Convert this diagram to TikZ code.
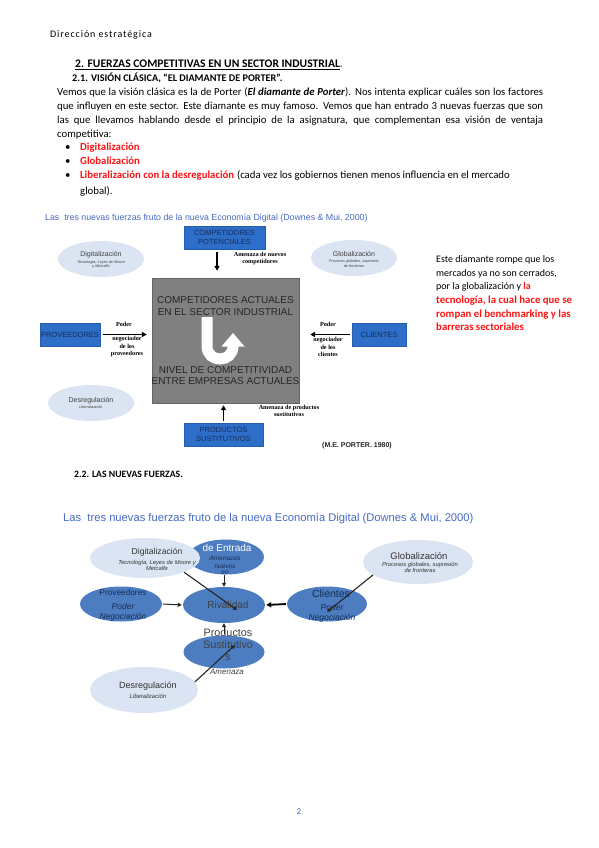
\documentclass[tikz,border=0pt]{standalone}
\usepackage{fontspec}
\setmainfont{Carlito}
\newfontfamily\arialfont{Liberation Sans}
\newfontfamily\timesfont{Liberation Serif}
\usetikzlibrary{arrows.meta,shapes.geometric}
\definecolor{titleblue}{RGB}{70,105,195}
\definecolor{boxblue}{RGB}{45,110,200}
\definecolor{boxtext}{RGB}{25,45,90}
\definecolor{grayfill}{RGB}{128,128,128}
\definecolor{graydraw}{RGB}{100,100,100}
\definecolor{lightell}{RGB}{218,228,242}
\definecolor{darkell}{RGB}{75,125,192}
\definecolor{redtxt}{RGB}{250,20,20}
\definecolor{ellnavy}{RGB}{25,45,85}
\newcommand\ellhead{\arialfont\upshape\fontsize{7}{8}\selectfont}

\begin{document}
\begin{tikzpicture}[x=1pt,y=-1pt]
  \tikzset{
    body/.style={anchor=base west, inner sep=0pt, font=\fontsize{10.75}{14}\selectfont},
    redbody/.style={body, text=redtxt, font=\bfseries\fontsize{10.75}{14}\selectfont},
    head/.style={anchor=base west, inner sep=0pt, font=\bfseries\fontsize{10}{12}\selectfont},
    pbox/.style={draw=boxblue!85!black, fill=boxblue, text=boxtext, align=center, inner sep=1pt,
      font=\arialfont\fontsize{7.5}{8.5}\selectfont},
    light/.style={ellipse, fill=lightell, draw=none, inner sep=0pt},
    dark/.style={ellipse, fill=darkell, draw=none, inner sep=0pt},
    lab/.style={align=center, inner sep=0pt, font=\timesfont\bfseries\fontsize{6.2}{7.5}\selectfont},
    etxt/.style={align=center, inner sep=0pt, text=ellnavy, font=\arialfont\fontsize{6}{7}\selectfont},
    arr/.style={-{Triangle[length=5pt,width=5pt]}, line width=1.6pt},
    arrthin/.style={-{Triangle[length=4pt,width=4pt]}, line width=1pt, black!85}
  }
  \useasboundingbox[fill=white] (0,0) rectangle (599,848);

  % Page text
  \node[body, font=\fontsize{10}{10}\selectfont\addfontfeature{LetterSpace=9}] (runhead) at (50,38) {Dirección estratégica};
  \node[head, font=\bfseries\fontsize{11.6}{12}\selectfont] (sec2) at (75,68)
    {\underline{2. FUERZAS COMPETITIVAS EN UN SECTOR INDUSTRIAL}\textcolor{titleblue}{.}};
  \node[head, font=\bfseries\fontsize{10.2}{11}\selectfont] (sec21) at (72,82)
    {2.1. VISIÓN CLÁSICA, “EL DIAMANTE DE PORTER”.};
  \node[body] (par1) at (57,96) {\makebox[486pt][s]{Vemos que la visión clásica es la de Porter (\textbf{\textit{El diamante de Porter}}). Nos intenta explicar cuáles son los factores}};
  \node[body] (par2) at (57,110) {\makebox[486pt][s]{que influyen en este sector. Este diamante es muy famoso. Vemos que han entrado 3 nuevas fuerzas que son}};
  \node[body] (par3) at (57,124) {\makebox[486pt][s]{las que llevamos hablando desde el principio de la asignatura, que complementan esa visión de ventaja}};
  \node[body] (par4) at (57,137) {competitiva:};
  \foreach \y/\txt [count=\i] in {150/Digitalización, 164/Globalización, 178/Liberalización con la desregulación}{
    \node[body] (bul\i) at (65,\y) {\textbullet};
    \node[redbody] (item\i) at (80,\y) {\txt};
  }
  \node[body, anchor=base west] (item3b) at (item3.base east) {\ (cada vez los gobiernos tienen menos influencia en el mercado};
  \node[body] (item3c) at (80,194) {global).};

  % Diagram 1: Porter
  \node[anchor=base west, inner sep=0pt, text=titleblue, font=\arialfont\fontsize{8.8}{9}\selectfont] (title1) at (45,220)
    {Las\ \ tres nuevas fuerzas fruto de la nueva Economía Digital (Downes \& Mui, 2000)};

  \node[light, minimum width=86, minimum height=36] (digi) at (101,259) {};
  \node[etxt, text=black!75, font=\arialfont\itshape\fontsize{3.8}{4.3}\selectfont] (digi-t) at (101,260)
    {{\ellhead Digitalización}\\[2.5pt]Tecnología, Leyes de Moore\\y Metcalfe};
  \node[light, minimum width=86, minimum height=36] (glob) at (354,258) {};
  \node[etxt, text=black!75, font=\arialfont\itshape\fontsize{3.8}{4.3}\selectfont] (glob-t) at (354,259)
    {{\ellhead Globalización}\\[2.5pt]Procesos globales, supresión\\de fronteras};
  \node[light, minimum width=86, minimum height=36] (desr) at (91,403) {};
  \node[etxt, text=black!75, font=\arialfont\itshape\fontsize{3.8}{4.3}\selectfont] (desr-t) at (91,403)
    {{\ellhead Desregulación}\\[2.5pt]Liberalización};

  \node[pbox, minimum width=81, minimum height=23] (pot) at (224.5,237.5) {COMPETIDORES\\POTENCIALES};
  \node[pbox, minimum width=60, minimum height=23] (prov) at (70,334.5) {PROVEEDORES};
  \node[pbox, minimum width=54, minimum height=23] (cli) at (379,334.5) {CLIENTES};
  \node[pbox, minimum width=79, minimum height=23] (sust) at (223.5,434.5) {PRODUCTOS\\SUSTITUTIVOS};

  \node[draw=graydraw, fill=grayfill, minimum width=147, minimum height=125, inner sep=0pt] (sector) at (225.5,340.5) {};
  \node[align=center, inner sep=0pt, text=black!85, font=\arialfont\fontsize{10}{11.8}\selectfont] (sector-a) at (225.5,306)
    {COMPETIDORES ACTUALES\\EN EL SECTOR INDUSTRIAL};
  \node[align=center, inner sep=0pt, text=black!85, font=\arialfont\fontsize{10}{11.8}\selectfont] (sector-b) at (225.5,375.5)
    {NIVEL DE COMPETITIVIDAD\\ENTRE EMPRESAS ACTUALES};
  % U-turn arrow
  \draw[white, line width=11pt] (207,317) -- (207,346) .. controls (207,363.3) and (233,363.3) .. (233,346);
  \fill[white] (221.5,346.5) -- (244.5,346.5) -- (233,333) -- cycle;

  \draw[arr, shorten <=3pt, shorten >=7pt] ([xshift=-7.5]pot.south) -- ([xshift=-8.5]sector.north);
  \draw[arr, shorten <=3pt, shorten >=5pt] (prov.east) -- (prov.east -| sector.west);
  \draw[arr, shorten <=2pt, shorten >=11pt] (cli.west) -- (cli.west -| sector.east);
  \draw[arr, shorten <=2pt, shorten >=2pt] (sust.north) -- (sust.north |- sector.south);

  \node[lab] (lab-pot) at (260,258.5) {Amenaza de nuevos\\competidores};
  \node[lab] (lab-prov-a) at (124,324) {Poder};
  \node[lab] (lab-prov-b) at (127,347) {negociador\\de los\\proveedores};
  \node[lab] (lab-cli-a) at (328,324) {Poder};
  \node[lab] (lab-cli-b) at (328,347) {negociador\\de los\\clientes};
  \node[lab] (lab-sust) at (289,411) {Amenaza de productos\\sustitutivos};
  \node[inner sep=0pt, text=black!85, font=\arialfont\bfseries\fontsize{7}{7}\selectfont] (porter) at (357,446) {(M.E. PORTER. 1980)};

  % Side note
  \node[body, font=\fontsize{10}{14}\selectfont] (note1) at (436,262) {Este diamante rompe que los};
  \node[body, font=\fontsize{10}{14}\selectfont] (note2) at (436,276) {mercados ya no son cerrados,};
  \node[body, font=\fontsize{10}{14}\selectfont] (note3) at (436,289) {por la globalización y \textcolor{redtxt}{\textbf{la}}};
  \node[redbody, font=\bfseries\fontsize{10.8}{14}\selectfont] (note4) at (436,303) {tecnología, la cual hace que se};
  \node[redbody, font=\bfseries\fontsize{10.8}{14}\selectfont] (note5) at (436,317) {rompan el benchmarking y las};
  \node[redbody, font=\bfseries\fontsize{10.8}{14}\selectfont] (note6) at (436,330) {barreras sectoriales};

  \node[head, font=\bfseries\fontsize{9.7}{11}\selectfont] (sec22) at (74,477) {2.2. LAS NUEVAS FUERZAS.};

  % Diagram 2: new forces
  \node[anchor=base west, inner sep=0pt, text=titleblue, font=\arialfont\fontsize{11.2}{12}\selectfont] (title2) at (63,521)
    {Las\ \ tres nuevas fuerzas fruto de la nueva Economía Digital (Downes \& Mui, 2000)};

  \node[dark, minimum width=76, minimum height=35] (entr) at (226,557) {};
  \node[light, minimum width=110, minimum height=40] (digi2) at (145,558) {};
  \node[dark, minimum width=82, minimum height=35] (prov2) at (121,604) {};
  \node[dark, minimum width=82, minimum height=36] (riv) at (224,605) {};
  \node[dark, minimum width=80, minimum height=35] (cli2) at (327,604) {};
  \node[dark, minimum width=81, minimum height=33] (sust2) at (224,652) {};
  \node[light, minimum width=110, minimum height=44] (glob2) at (418,562) {};
  \node[light, minimum width=108, minimum height=46] (desr2) at (144,690) {};

  \node[etxt, text=white, font=\arialfont\fontsize{10}{10}\selectfont] (entr-a) at (227,548) {de Entrada};
  \node[etxt, font=\arialfont\itshape\fontsize{6.5}{8.5}\selectfont] (entr-b) at (225,565) {Amenazas\\nuevos\\[-3pt]en};
  \node[etxt, text=black!80, font=\arialfont\fontsize{8.6}{9}\selectfont] (digi2-a) at (157,552) {Digitalización};
  \node[etxt, text=black!80, font=\arialfont\itshape\fontsize{5.8}{6.2}\selectfont] (digi2-b) at (157,565) {Tecnología, Leyes de Moore y\\Metcalfe};
  \node[etxt, text=black!80, font=\arialfont\fontsize{9.5}{10}\selectfont] (glob2-a) at (419,556) {Globalización};
  \node[etxt, text=black!80, font=\arialfont\itshape\fontsize{5.8}{6.2}\selectfont] (glob2-b) at (420,567.5) {Procesos globales, supresión\\de fronteras};
  \node[etxt, text=black!80, font=\arialfont\fontsize{9}{9}\selectfont] (desr2-a) at (148,686) {Desregulación};
  \node[etxt, text=black!80, font=\arialfont\itshape\fontsize{6}{6}\selectfont] (desr2-b) at (148,696) {Liberalización};
  \node[etxt, font=\arialfont\fontsize{8.3}{8}\selectfont] (prov2-a) at (123,593) {Proveedores};
  \node[etxt, font=\arialfont\itshape\fontsize{8.5}{10}\selectfont] (prov2-b) at (123,612) {Poder\\Negociación};
  \node[etxt, text=black!75, font=\arialfont\fontsize{10}{10}\selectfont] (riv-t) at (228,605) {Rivalidad};
  \node[etxt, font=\arialfont\fontsize{10.5}{10}\selectfont] (cli2-a) at (331,594) {Clientes};
  \node[etxt, font=\arialfont\itshape\fontsize{8.5}{10}\selectfont] (cli2-b) at (332,613) {Poder\\Negociación};
  \node[etxt, text=black!75, font=\arialfont\fontsize{10.8}{12}\selectfont] (sust2-t) at (228,645) {Productos\\Sustitutivo\\s};
  \node[etxt, text=black!75, font=\arialfont\itshape\fontsize{8}{8}\selectfont] (sust2-b) at (227,672) {Amenaza};

  \draw[arrthin, shorten <=1pt, shorten >=1pt] (prov2.east) -- (riv.west);
  \draw[arr, line width=1.8pt, shorten <=1pt, shorten >=1pt] (cli2.west) -- (riv.east);
  \draw[arrthin, line width=0.8pt] (riv.north |- entr.south) -- (riv.north);
  \draw[arrthin, line width=0.8pt, shorten <=1pt] (sust2.north) -- (riv.south);
  \coordinate (digi2-end) at (237,610);
  \coordinate (glob2-end) at (327,612);
  \coordinate (desr2-end) at (235,645);
  \draw[arrthin, line width=1.1pt] (digi2.-20) -- (digi2-end);
  \draw[arrthin, line width=1.1pt] (glob2.196) -- (glob2-end);
  \draw[arrthin, line width=1.1pt] (desr2.9) -- (desr2-end);

  \node[inner sep=0pt, text=titleblue, font=\fontsize{9}{10}\selectfont] (pagenum) at (299,812) {2};
\end{tikzpicture}
\end{document}
